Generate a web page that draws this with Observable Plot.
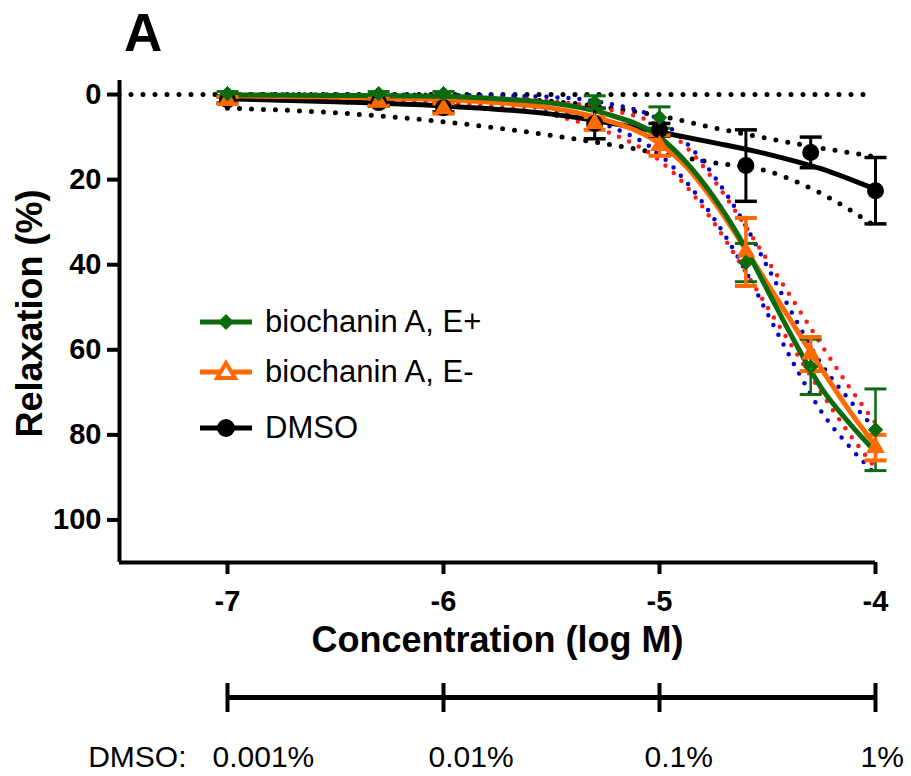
<!DOCTYPE html>
<html><head><meta charset="utf-8">
<script src="https://cdn.jsdelivr.net/npm/d3@7"></script>
<script src="https://cdn.jsdelivr.net/npm/@observablehq/plot@0.6"></script>
<style>
body{margin:0;background:#fff;font-family:"Liberation Sans",Arial,sans-serif;color:#000;}
#wrap{position:relative;width:911px;height:776px;overflow:hidden;}
#title{position:absolute;left:124px;top:6px;font-size:53px;line-height:1;font-weight:bold;}
.leg{position:absolute;left:198px;height:40px;display:flex;align-items:center;font-size:31px;white-space:nowrap;}
.leg svg{margin-right:11px;}
#main,#bar{position:absolute;left:0;}
#main{top:0;} #bar{top:663px;}
</style></head>
<body>
<div id="wrap">
  <div id="main"></div>
  <div id="bar"></div>
  <div id="title">A</div>
  <div class="leg" style="top:302px"><svg width="56" height="40"><line x1="2" x2="54" y1="20" y2="20" stroke="#0d6b0d" stroke-width="5"/><path d="M28,12L36,20L28,28L20,20Z" fill="#0d6b0d"/></svg><span id="l0"></span></div>
  <div class="leg" style="top:352px"><svg width="56" height="40"><line x1="2" x2="54" y1="20" y2="20" stroke="#ff6a00" stroke-width="5"/><polygon points="28,11 37,26 19,26" fill="#fff" stroke="#ff6a00" stroke-width="4" stroke-linejoin="miter"/></svg><span id="l1"></span></div>
  <div class="leg" style="top:408px"><svg width="56" height="40"><line x1="2" x2="54" y1="20" y2="20" stroke="#000" stroke-width="5"/><circle cx="28" cy="20" r="9" fill="#000"/></svg><span id="l2"></span></div>
</div>
<script>
// ---- data ----
const seriesNames = ["biochanin A, E+", "biochanin A, E-", "DMSO"];
const logConc = [-7, -6.3, -6, -5.3, -5, -4.6, -4.3, -4];
const ePlusMean = [-0.2, -0.2, -0.2, 1.8, 5.4, 39.5, 64, 78.8];
const ePlusErr  = [0.5, 0.5, 0.5, 1.5, 2.5, 4.5, 6.5, 9.6];
const eMinusMean = [1.4, 1.8, 3.3, 6.8, 12, 37, 61, 83];
const eMinusErr  = [0.8, 0.8, 1.2, 1.5, 2.4, 8, 4, 3];
const dmsoMean = [1.2, 1.9, 3.1, 6.8, 8.3, 16.7, 13.6, 22.6];
const dmsoErr  = [0.8, 0.8, 1.0, 3.6, 1.5, 8.4, 3.6, 7.8];

const fitX = [-7, -6.5, -6, -5.75, -5.5, -5.25, -5, -4.875, -4.75, -4.625, -4.5, -4.375, -4.25, -4.125, -4];
const ePlusFit = [0.1, 0.2, 0.4, 1.0, 2.0, 4.5, 10, 16, 24, 34, 46, 58, 69, 77, 84];
const ePlusLo  = [0, 0, 0.1, 0.3, 0.6, 2.0, 6, 11.4, 19, 28.7, 40.5, 52.4, 63.4, 71.5, 78.7];
const ePlusHi  = [0.4, 0.6, 1.1, 2.0, 3.6, 7.1, 14, 20.6, 29, 39.3, 51.5, 63.6, 74.6, 82.5, 89.3];
const eMinusFit = [0.3, 0.6, 1.2, 1.9, 3.2, 6.0, 11.5, 17, 25, 34.5, 44.5, 54.5, 64.5, 74, 82.5];
const eMinusLo  = [0, 0.2, 0.5, 0.9, 1.6, 3.4, 7.5, 12.4, 20, 29.2, 39, 48.9, 58.9, 68.5, 77.2];
const eMinusHi  = [0.6, 1.0, 1.9, 2.9, 4.8, 8.6, 15.5, 21.6, 30, 39.8, 50, 60.1, 70.1, 79.5, 87.8];

const dmsoFitX = [-7, -6.5, -6, -5.5, -5.25, -5, -4.75, -4.5, -4.25, -4];
const dmsoFit = [1.0, 1.7, 2.7, 4.6, 6.5, 8.8, 11.3, 14.0, 17.5, 22.3];
const dmsoLo  = [0, 0.2, 0.6, 1.6, 3.0, 5.0, 7.8, 10.3, 12.6, 14.6];
const dmsoHi  = [3.2, 4.3, 6.4, 9.6, 11.6, 13.8, 16, 18, 23.3, 31];

const xTicks = [-7, -6, -5, -4];
const yTicks = [0, 20, 40, 60, 80, 100];
const dmsoScaleTicks = [-7, -6, -5, -4];
const dmsoScaleLabels = ["0.001%", "0.01%", "0.1%", "1%"];

// ---- colours ----
const GREEN = "#0d6b0d", ORANGE = "#ff6a00", BLUE = "#0000cc", RED = "#ff1a1a";

document.getElementById("l0").textContent = seriesNames[0];
document.getElementById("l1").textContent = seriesNames[1];
document.getElementById("l2").textContent = seriesNames[2];

const pts = (m, e) => logConc.map((x, i) => ({x, y: m[i], lo: m[i] - e[i], hi: m[i] + e[i]}));
const fit = (xs, ys) => xs.map((x, i) => ({x, y: ys[i]}));
const cap = {draw(ctx, size) { const w = Math.sqrt(size / Math.PI); ctx.moveTo(-w, 0); ctx.lineTo(w, 0); }};
const font = '"Liberation Sans", Arial, sans-serif';
const xDomain = [-7.5, -4];

const dotted = (data, color, w = 4.5, gap = 11) => Plot.line(data, {x: "x", y: "y", stroke: color, strokeWidth: w, strokeDasharray: `0 ${gap}`, strokeLinecap: "round", curve: "monotone-x"});
const solid = (data, color) => Plot.line(data, {x: "x", y: "y", stroke: color, strokeWidth: 5, curve: "monotone-x"});
const errs = (data, color, w) => [
  Plot.ruleX(data, {x: "x", y1: "lo", y2: "hi", stroke: color, strokeWidth: w}),
  Plot.dot(data, {x: "x", y: "lo", symbol: cap, r: 11, stroke: color, strokeWidth: w + 0.5, fill: "none"}),
  Plot.dot(data, {x: "x", y: "hi", symbol: cap, r: 11, stroke: color, strokeWidth: w + 0.5, fill: "none"})
];

const ep = pts(ePlusMean, ePlusErr), em = pts(eMinusMean, eMinusErr), dm = pts(dmsoMean, dmsoErr);

const main = Plot.plot({
  width: 911, height: 663,
  marginLeft: 119, marginRight: 36, marginTop: 80, marginBottom: 101,
  style: {fontFamily: font, fontWeight: "bold", fontSize: "29px", color: "#000", background: "transparent", overflow: "visible"},
  x: {domain: xDomain},
  y: {domain: [110, -3.3]},
  marks: [
    Plot.ruleY([0], {stroke: "#000", strokeWidth: 5, strokeDasharray: "0 12", strokeLinecap: "round"}),
    dotted(fit(dmsoFitX, dmsoLo), "#000", 5, 12),
    dotted(fit(dmsoFitX, dmsoHi), "#000", 5, 12),
    dotted(fit(fitX, ePlusLo), BLUE),
    dotted(fit(fitX, ePlusHi), BLUE),
    dotted(fit(fitX, eMinusLo), RED),
    dotted(fit(fitX, eMinusHi), RED),
    solid(fit(dmsoFitX, dmsoFit), "#000"),
    solid(fit(fitX, eMinusFit), ORANGE),
    solid(fit(fitX, ePlusFit), GREEN),
    ...errs(dm, "#000", 3),
    ...errs(ep, GREEN, 2.5),
    ...errs(em, ORANGE, 3.5),
    Plot.dot(dm, {x: "x", y: "y", r: 8.5, fill: "#000"}),
    Plot.dot(em, {x: "x", y: "y", symbol: "triangle", r: 7, fill: ORANGE}),
    Plot.dot(ep, {x: "x", y: "y", symbol: "diamond2", r: 6.5, fill: GREEN, stroke: GREEN, strokeWidth: 1}),
    Plot.ruleX([xDomain[0]], {stroke: "#000", strokeWidth: 4}),
    Plot.ruleY([110], {stroke: "#000", strokeWidth: 4}),
    Plot.axisX({ticks: xTicks, tickSize: 12, tickPadding: 16, strokeWidth: 4, tickFormat: d => String(d), label: null}),
    Plot.axisY({ticks: yTicks, tickSize: 12, tickPadding: 6, strokeWidth: 4, tickFormat: d => String(d), label: null}),
    Plot.text(["Concentration (log M)"], {frameAnchor: "bottom", lineAnchor: "middle", textAnchor: "middle", dy: 78, fontSize: 36, fontWeight: "bold"}),
    Plot.text(["Relaxation (%)"], {frameAnchor: "left", rotate: -90, textAnchor: "middle", lineAnchor: "middle", dx: -89, dy: -8, fontSize: 36, fontWeight: "bold"})
  ]
});
document.getElementById("main").append(main);

const bar = Plot.plot({
  width: 911, height: 113,
  marginLeft: 119, marginRight: 36, marginTop: 0, marginBottom: 0,
  style: {fontFamily: font, fontSize: "30px", color: "#000", background: "transparent", overflow: "visible"},
  x: {domain: xDomain, axis: null},
  y: {domain: [0, 113], range: [0, 113], axis: null},
  marks: [
    Plot.ruleY([34], {x1: dmsoScaleTicks[0], x2: dmsoScaleTicks[dmsoScaleTicks.length - 1], stroke: "#000", strokeWidth: 5}),
    Plot.ruleX(dmsoScaleTicks, {x: d => d, y1: 20, y2: 49, stroke: "#000", strokeWidth: 4}),
    Plot.text(dmsoScaleTicks, {x: d => d, y: 94, text: (d, i) => dmsoScaleLabels[i], textAnchor: "start", dx: -15, fontSize: 30}),
    Plot.text(["DMSO:"], {x: () => dmsoScaleTicks[0], y: 94, textAnchor: "end", dx: -41, fontSize: 30})
  ]
});
document.getElementById("bar").append(bar);
</script>
</body></html>
